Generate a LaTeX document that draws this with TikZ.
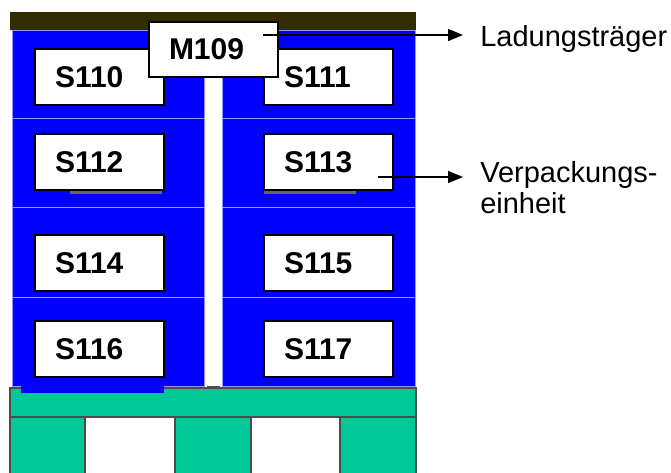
\documentclass[tikz,border=0pt]{standalone}
\usepackage{fontspec}
\setmainfont{Liberation Sans}
\usetikzlibrary{arrows.meta}
\definecolor{crate}{RGB}{0,0,255}
\definecolor{crateedge}{RGB}{150,150,255}
\definecolor{pallet}{RGB}{0,200,150}
\definecolor{lid}{RGB}{50,45,0}

\begin{document}
\begin{tikzpicture}[x=0.75pt,y=-0.75pt,
	cell/.style={fill=crate,draw=crateedge,line width=0.6pt},
	board/.style={fill=pallet,draw=black!70,line width=0.8pt},
	tag/.style={draw,fill=white,line width=1.5pt,text width=66.75pt,align=left,inner xsep=15pt,inner ysep=0pt,minimum height=42pt,font=\bfseries\fontsize{22.5}{27}\selectfont},
	note/.style={align=left,inner xsep=12.75pt,font=\fontsize{21.75}{23.25}\selectfont},
	pointer/.style={line width=1.1pt,-{Triangle[length=11.25pt,width=9pt]}}]
	
	\useasboundingbox (0,0) rectangle (671,473);
	
	\fill[lid] (10,12) rectangle (416,30);
	\foreach \ya/\yb in {30/118,118/207,207/297,297/386}{
		\draw[cell] (12,\ya) rectangle (204,\yb);
		\draw[cell] (222,\ya) rectangle (415,\yb);
	}
	
	\draw[board] (10,388) rectangle (416,417);
	\path[board] (10,473) -- (10,417) -- (85,417) -- (85,473);
	\path[board] (175,473) -- (175,417) -- (251,417) -- (251,473);
	\path[board] (340,473) -- (340,417) -- (416,417) -- (416,473);
	\fill[crate] (21,386) rectangle (164,393);
	\fill[black!70] (207,386) rectangle (220,388);
	
	\fill[black!60] (70,191) rectangle (162,194);
	\fill[black!60] (264,191) rectangle (356,194);
	
	\node[tag] (s110) at (99.5,77) {S110};
	\node[tag] (s111) at (328.5,77) {S111};
	\node[tag] (s112) at (99.5,162.5) {S112};
	\node[tag] (s113) at (328.5,162.5) {S113};
	\node[tag] (s114) at (99.5,263.5) {S114};
	\node[tag] (s115) at (328.5,263.5) {S115};
	\node[tag] (s116) at (99.5,349) {S116};
	\node[tag] (s117) at (328.5,349) {S117};
	\node[tag,minimum height=41.25pt] (m109) at (213.5,49.5) {M109};
	
	\node[note,anchor=base west] (lad) at (463,47) {Ladungsträger};
	\node[note,anchor=base west] (verp) at (463,214) {Verpackungs-\\einheit};
	
	\coordinate (mSrc) at (263,35);
	\coordinate (sSrc) at (378,177);
	\draw[pointer] (mSrc) -- (mSrc -| lad.west);
	\draw[pointer] (sSrc) -- (sSrc -| verp.west);
	
\end{tikzpicture}
\end{document}
